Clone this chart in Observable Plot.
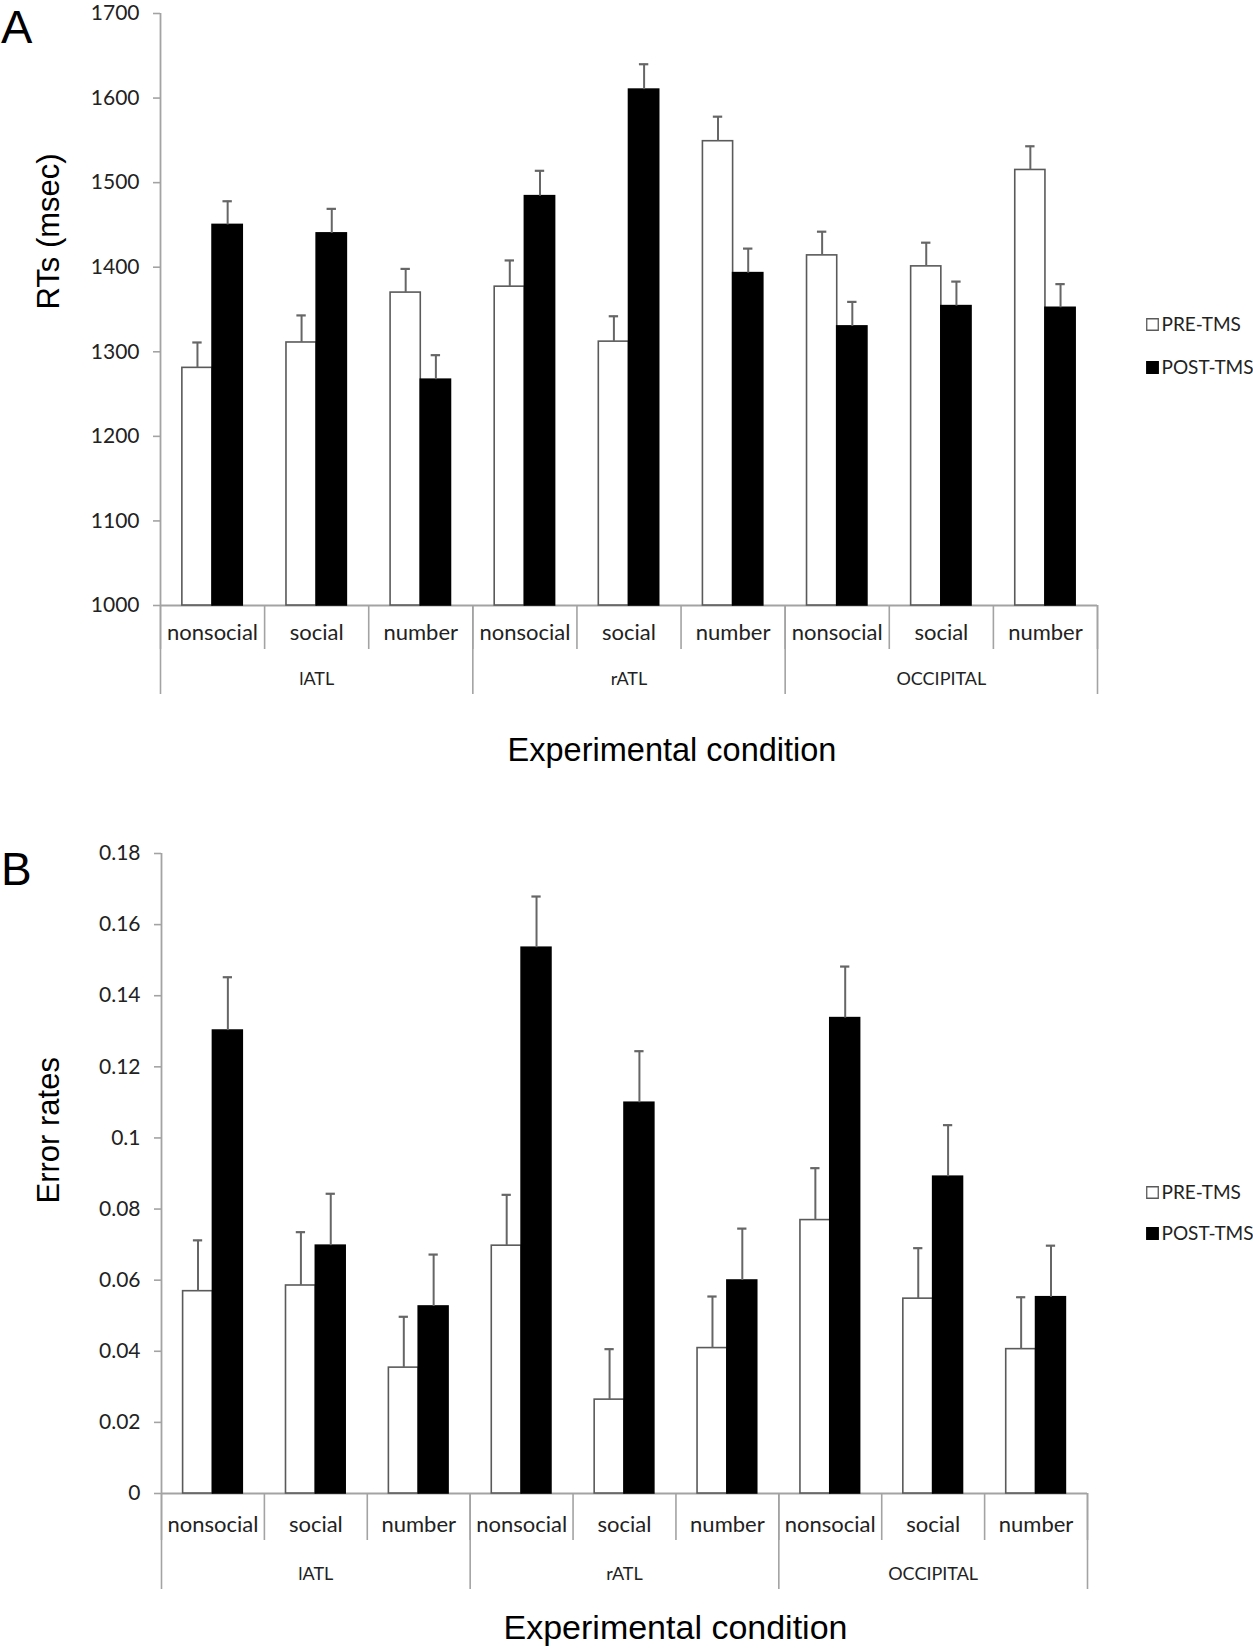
<!DOCTYPE html>
<html>
<head>
<meta charset="utf-8">
<script src="https://cdn.jsdelivr.net/npm/d3@7"></script>
<script src="https://cdn.jsdelivr.net/npm/@observablehq/plot@0.6"></script>
<style>
  body { margin: 0; background: #fff; }
  #wrap { position: relative; width: 1253px; height: 1650px; background: #fff; overflow: hidden; }
  .plab { position: absolute; left: 1px; font-family: "Liberation Sans", Arial, sans-serif; font-size: 47px; line-height: 54px; color: #000; }
  .chart { position: absolute; left: 0; }
</style>
</head>
<body>
<div id="wrap">
  <div id="chartA" class="chart" style="top:0px"></div>
  <div id="chartB" class="chart" style="top:780px"></div>
  <div class="plab" style="top:0px">A</div>
  <div class="plab" style="top:842px;font-size:46px">B</div>
</div>
<script>
// ---- data ----
const groups = ["lATL", "rATL", "OCCIPITAL"];
const conditions = ["nonsocial", "social", "number"];
const phases = ["PRE-TMS", "POST-TMS"];

// Panel A: reaction times (msec)
const rtPre      = [1281, 1311, 1370, 1377, 1312, 1549, 1414, 1401, 1515];
const rtPreErr   = [30, 32, 28, 31, 30, 29, 28, 28, 28];
const rtPost     = [1450, 1440, 1267, 1484, 1610, 1393, 1330, 1354, 1352];
const rtPostErr  = [28, 29, 29, 30, 30, 29, 29, 29, 28];
const rtTicks    = [1000, 1100, 1200, 1300, 1400, 1500, 1600, 1700];
const rtTickLabels = ["1000", "1100", "1200", "1300", "1400", "1500", "1600", "1700"];

// Panel B: error rates
const erPre      = [0.0569, 0.0585, 0.0354, 0.0697, 0.0264, 0.0409, 0.0769, 0.0548, 0.0406];
const erPreErr   = [0.0143, 0.0150, 0.0143, 0.0143, 0.0142, 0.0145, 0.0146, 0.0142, 0.0146];
const erPost     = [0.1302, 0.0697, 0.0526, 0.1535, 0.1099, 0.0599, 0.1337, 0.0891, 0.0552];
const erPostErr  = [0.0150, 0.0146, 0.0146, 0.0144, 0.0145, 0.0146, 0.0145, 0.0145, 0.0145];
const erTicks    = [0, 0.02, 0.04, 0.06, 0.08, 0.10, 0.12, 0.14, 0.16, 0.18];
const erTickLabels = ["0", "0.02", "0.04", "0.06", "0.08", "0.1", "0.12", "0.14", "0.16", "0.18"];

const yTitleA = "RTs (msec)";
const yTitleB = "Error rates";
const xTitle = "Experimental condition";

// ---- chart builder ----
const AXIS = "#a3a3a3";
const TXT = "#222";
const BAR_EDGE = "#5a5a5a";
const ERR = "#666";

function buildRows(pre, preErr, post, postErr) {
  const rows = [];
  for (let i = 0; i < pre.length; i++) {
    const group = groups[Math.floor(i / conditions.length)];
    const cond = conditions[i % conditions.length];
    rows.push({idx: i, group, cond, phase: phases[0], value: pre[i], err: preErr[i], slot: 0});
    rows.push({idx: i, group, cond, phase: phases[1], value: post[i], err: postErr[i], slot: 1});
  }
  return rows;
}

function makeChart(cfg) {
  const rows = buildRows(cfg.pre, cfg.preErr, cfg.post, cfg.postErr);
  const yMin = cfg.domain[0];
  const n = cfg.pre.length;
  const left = d => d.idx + (d.slot === 0 ? 0.21 : 0.5);
  const right = d => d.idx + (d.slot === 0 ? 0.5 : 0.79);
  const center = d => (left(d) + right(d)) / 2;
  const cats = d3.range(n).map(i => ({idx: i, cond: conditions[i % conditions.length]}));
  const grp = groups.map((g, k) => ({g, k}));
  const L = cfg.layout;

  return Plot.plot({
    width: 1253,
    height: L.height,
    marginTop: L.mt,
    marginBottom: L.mb,
    marginLeft: L.ml,
    marginRight: L.mr,
    style: {fontFamily: "Lato, 'Open Sans', sans-serif", fontSize: "21px", color: TXT, background: "white", overflow: "visible"},
    x: {domain: [0, n]},
    y: {domain: cfg.domain},
    color: {domain: phases, range: ["white", "black"]},
    marks: [
      // y axis
      Plot.axisY({ticks: cfg.ticks, tickFormat: d => cfg.tickLabels[cfg.ticks.indexOf(d)], tickSize: 7, tickPadding: 14,
                  stroke: AXIS, strokeWidth: 1.6, fill: TXT, fontSize: 21, label: null}),
      Plot.ruleX([0], {y1: cfg.domain[0], y2: cfg.domain[1], stroke: AXIS, strokeWidth: 1.8}),
      // baseline
      Plot.ruleY([yMin], {stroke: AXIS, strokeWidth: 1.8}),
      // category separators
      Plot.axisX({ticks: d3.range(n + 1), tickSize: L.sep, stroke: AXIS, strokeWidth: 1.6, fill: "none", label: null}),
      // group separators
      Plot.axisX({ticks: d3.range(0, n + 1, conditions.length), tickSize: L.gsep, stroke: AXIS, strokeWidth: 1.6, fill: "none", label: null}),
      // category labels
      Plot.text(cats, {x: d => d.idx + 0.5, text: "cond", frameAnchor: "bottom", dy: L.catDy, fill: TXT, fontSize: 22}),
      // group labels
      Plot.text(grp, {x: d => d.k * conditions.length + conditions.length / 2, text: "g", frameAnchor: "bottom", dy: L.grpDy, fill: TXT, fontSize: 18}),
      // bars
      Plot.rect(rows, {x1: left, x2: right, y1: () => yMin, y2: "value", fill: "phase",
                       stroke: d => d.slot === 0 ? BAR_EDGE : "black", strokeWidth: 1.6}),
      // error bars
      Plot.ruleX(rows, {x: center, y1: "value", y2: d => d.value + d.err, stroke: ERR, strokeWidth: 2}),
      Plot.ruleY(rows, {y: d => d.value + d.err, x1: d => center(d) - 0.045, x2: d => center(d) + 0.045, stroke: ERR, strokeWidth: 2.2}),
      // y title
      Plot.text([cfg.yTitle], {frameAnchor: "left", rotate: -90, dx: L.ytDx, dy: L.ytDy, fill: "#000",
                              fontSize: 31, fontFamily: "'Liberation Sans', Arial, sans-serif"}),
      // x title
      Plot.text([xTitle], {frameAnchor: "bottom", dx: L.xtDx, dy: L.xtDy, fill: "#000",
                           fontSize: L.xtSize, fontFamily: "'Liberation Sans', Arial, sans-serif"}),
      // legend
      ...phases.map((p, i) => Plot.dot([p], {frameAnchor: "right", dx: L.lgDx, dy: L.lgDy[i], symbol: "square", r: 6.5,
                        fill: i === 0 ? "white" : "black", stroke: i === 0 ? BAR_EDGE : "black", strokeWidth: 1.3})),
      ...phases.map((p, i) => Plot.text([p], {frameAnchor: "right", textAnchor: "start", dx: L.lgDx + 9, dy: L.lgDy[i],
                        fill: TXT, fontSize: 19}))
    ]
  });
}

const chartA = makeChart({
  pre: rtPre, preErr: rtPreErr, post: rtPost, postErr: rtPostErr,
  domain: [1000, 1700], ticks: rtTicks, tickLabels: rtTickLabels, yTitle: yTitleA,
  layout: {height: 780, mt: 13, mb: 175, ml: 160, mr: 156, sep: 44, gsep: 89, catDy: 34, grpDy: 79,
           ytDx: -111, ytDy: 0, xtDx: 43, xtDy: 155, xtSize: 32.5, lgDx: 55, lgDy: [15, 58]}
});
document.getElementById("chartA").appendChild(chartA);

const chartB = makeChart({
  pre: erPre, preErr: erPreErr, post: erPost, postErr: erPostErr,
  domain: [0, 0.18], ticks: erTicks, tickLabels: erTickLabels, yTitle: yTitleB,
  layout: {height: 870, mt: 73, mb: 157, ml: 161, mr: 166, sep: 47, gsep: 96, catDy: 38, grpDy: 86,
           ytDx: -112, ytDy: 30, xtDx: 51, xtDy: 145, xtSize: 34, lgDx: 65, lgDy: [19, 60]}
});
document.getElementById("chartB").appendChild(chartB);
</script>
</body>
</html>
